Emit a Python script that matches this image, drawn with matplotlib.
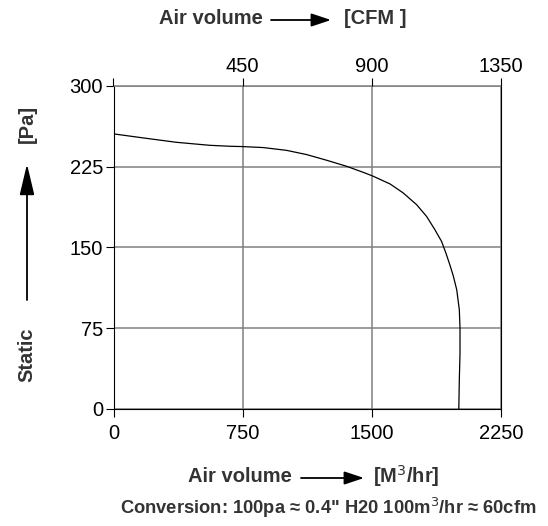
import numpy as np
import matplotlib
matplotlib.use("Agg")
import matplotlib.pyplot as plt
from matplotlib.patches import FancyArrowPatch

# ---- data ----
flow_m3h = [0, 170, 364, 558, 676, 750, 869, 1005, 1121, 1238, 1354, 1450,
            1505, 1606, 1682, 1760, 1818, 1866, 1905, 1930, 1953, 1973,
            1993, 2008, 2012, 2012, 2008, 2005]
static_pa = [255.3, 251.6, 247.5, 244.7, 243.8, 243.5, 242.6, 240.0, 236.1,
             230.8, 225.2, 219.6, 216.2, 208.8, 200.5, 189.6, 178.7, 166.4,
             155.5, 144.7, 133.8, 123.5, 110.6, 92.0, 75.0, 51.8, 27.0, 0.0]

x_ticks = [0, 750, 1500, 2250]
y_ticks = [0, 75, 150, 225, 300]
cfm_labels = ["", "450", "900", "1350"]

W, H = 548, 526
plt.rcParams["font.family"] = ["Liberation Sans", "DejaVu Sans"]

fig = plt.figure(figsize=(W / 100, H / 100), dpi=100)
ax = fig.add_axes([113.5 / W, 1 - 409 / H, 387.5 / W, 323.3 / H])

grid_c = "#808080"
ax.plot(flow_m3h, static_pa, color="black", lw=0.9, zorder=3,
        solid_joinstyle="round")

ax.set_xlim(0, 2250)
ax.set_ylim(0, 300)
ax.set_xticks(x_ticks)
ax.set_yticks(y_ticks)
ax.grid(True, color=grid_c, lw=1.1)
ax.set_axisbelow(True)

for s in ["left", "right", "bottom"]:
    ax.spines[s].set_color("black")
    ax.spines[s].set_linewidth(0.8)
ax.spines["top"].set_color(grid_c)
ax.spines["top"].set_linewidth(1.1)

ax.tick_params(axis="both", direction="out", length=6, width=0.8,
               labelsize=14.5, colors="black")
ax.tick_params(axis="y", pad=1.5)
ax.tick_params(axis="x", pad=5)

# CFM scale on top
top = ax.twiny()
top.set_xlim(ax.get_xlim())
top.set_xticks(x_ticks)
top.set_xticklabels(cfm_labels)
top.tick_params(axis="x", direction="out", length=6, width=0.8,
                labelsize=14.5, pad=0.8)
for s in top.spines.values():
    s.set_visible(False)


def px(x, y):
    return x / W, 1 - y / H


def arrow(x0, y0, x1, y1, hl=12, hw=4):
    a = FancyArrowPatch(px(x0, y0), px(x1, y1), transform=fig.transFigure,
                        arrowstyle=f"-|>,head_length={hl},head_width={hw}",
                        mutation_scale=1, color="black", lw=1.3,
                        shrinkA=0, shrinkB=0)
    fig.add_artist(a)


lab = dict(fontsize=14.5, fontweight="bold", color="#333333",
           ha="center", va="center")

# top label
fig.text(*px(210.5, 19), "Air volume", **lab)
arrow(271, 20, 331, 20)
fig.text(*px(375, 19), "[CFM ]", **lab)

# bottom label
fig.text(*px(240, 477), "Air volume", **lab)
arrow(301, 478, 364, 478)
fig.text(*px(406, 476), "[M$^{3}$/hr]", **lab)

# left label
fig.text(*px(27, 355), "Static", rotation=90, **lab)
arrow(27, 300, 27, 164, hl=19, hw=4.5)
fig.text(*px(27, 124), "[Pa]", rotation=90, **lab)

# conversion note
note = dict(lab, fontsize=13.2)
fig.text(*px(328.5, 508),
         "Conversion: 100pa \u2248 0.4\" H20 100m$^{3}$/hr \u2248 60cfm",
         **note)

fig.savefig("out.png", dpi=100)
